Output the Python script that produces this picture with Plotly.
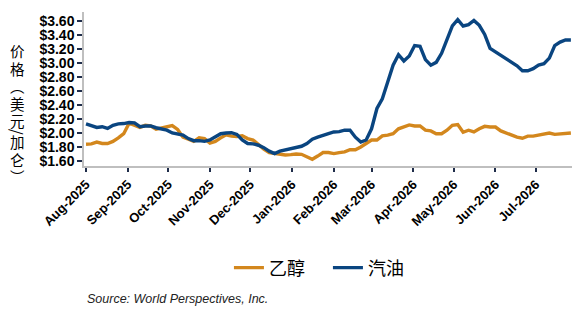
import pandas as pd
import plotly.graph_objects as go

start_date = "2025-08-01"
step = "4D"

gasoline = [2.13, 2.10, 2.08, 2.09, 2.065, 2.11, 2.13, 2.135, 2.15, 2.145,
            2.09, 2.10, 2.10, 2.075, 2.06, 2.04, 2.00, 1.99, 1.97, 1.92,
            1.89, 1.89, 1.88, 1.90, 1.95, 1.99, 2.00, 2.005, 1.98, 1.90,
            1.85, 1.845, 1.825, 1.79, 1.74, 1.705, 1.74, 1.76, 1.78, 1.80,
            1.81, 1.85, 1.91, 1.94, 1.97, 1.99, 2.015, 2.02, 2.04, 2.04,
            1.94, 1.87, 1.90, 2.06, 2.35, 2.49, 2.73, 2.97, 3.12, 3.03,
            3.10, 3.25, 3.24, 3.05, 2.97, 3.01, 3.14, 3.33, 3.53, 3.62,
            3.53, 3.55, 3.61, 3.54, 3.41, 3.21, 3.16, 3.11, 3.06, 3.02,
            2.96, 2.89, 2.89, 2.92, 2.97, 2.99, 3.07, 3.25, 3.30, 3.33,
            3.33]

ethanol = [1.84, 1.845, 1.87, 1.85, 1.85, 1.88, 1.93, 1.99, 2.14, 2.11,
           2.08, 2.11, 2.10, 2.055, 2.07, 2.09, 2.105, 2.05, 1.94, 1.91,
           1.88, 1.93, 1.92, 1.855, 1.88, 1.93, 1.975, 1.955, 1.95, 1.96,
           1.92, 1.90, 1.83, 1.77, 1.72, 1.71, 1.695, 1.685, 1.69, 1.70,
           1.695, 1.66, 1.625, 1.67, 1.72, 1.72, 1.705, 1.72, 1.73, 1.76,
           1.76, 1.80, 1.85, 1.90, 1.90, 1.96, 1.97, 1.99, 2.06, 2.09,
           2.115, 2.10, 2.10, 2.04, 2.03, 1.99, 1.99, 2.04, 2.11, 2.12,
           2.01, 2.04, 2.015, 2.06, 2.095, 2.085, 2.085, 2.03, 2.00, 1.965,
           1.94, 1.925, 1.955, 1.955, 1.97, 1.99, 2.00, 1.98, 1.99, 2.00,
           2.00]

dates = pd.date_range(start_date, periods=len(gasoline), freq=step)

series_names = ["乙醇", "汽油"]
series_colors = ["#D3871D", "#0A4580"]

y_ticks = [1.6, 1.8, 2.0, 2.2, 2.4, 2.6, 2.8, 3.0, 3.2, 3.4, 3.6]
y_ticktext = ["$%.2f" % v for v in y_ticks]

# vertical y-axis title: 价格（美元/加仑）, drawn in three pieces
title_top = ["价", "格", "︵", "美", "元"]
title_mid = "/"
title_bottom = ["加", "仑", "︶"]


def stack(chars):
    return "<br>".join("<span style='font-size:14.5px'>%s</span>" % c for c in chars)


fig = go.Figure()
for name, vals, col in zip(series_names, [ethanol, gasoline], series_colors):
    fig.add_trace(go.Scatter(x=dates, y=vals, name=name, mode="lines",
                             line=dict(color=col, width=3.4)))

x_font = dict(family="Liberation Sans, Arial, sans-serif", size=13,
              color="black", weight="bold")
y_font = dict(family="Liberation Sans, Arial, sans-serif", size=14,
              color="black", weight="bold")

fig.update_layout(
    width=578, height=317,
    margin=dict(l=84, r=6, t=12, b=151),
    paper_bgcolor="white", plot_bgcolor="white",
    showlegend=True,
    legend=dict(orientation="h", x=0.297, xanchor="left", y=-0.662,
                yanchor="middle", entrywidth=54, entrywidthmode="pixels",
                font=dict(family="Noto Sans CJK SC", size=18, color="black")),
)
fig.update_xaxes(
    range=["2025-07-30 12:00", "2026-07-27 20:00"],
    tick0="2025-08-01", dtick="M1", tickformat="%b-%Y", tickangle=-45,
    tickfont=x_font, showgrid=False, zeroline=False,
    showline=True, linecolor="#BFBFBF", linewidth=1.5,
    ticks="outside", ticklen=4, tickcolor="#1F2D4A", tickwidth=1.5,
)
fig.update_yaxes(
    range=[1.528, 3.73], tickvals=y_ticks, ticktext=y_ticktext,
    tickfont=y_font, showgrid=False, zeroline=False,
    showline=True, linecolor="#BFBFBF", linewidth=1.5,
    ticks="outside", ticklen=5, tickcolor="#1F2D4A", tickwidth=1.5,
)

title_font = dict(family="Noto Sans CJK SC", size=13.5, color="black")
fig.add_annotation(text=stack(title_top), xref="paper", yref="paper",
                   x=-0.137, y=0.523, xanchor="center", yanchor="middle",
                   showarrow=False, font=title_font)
fig.add_annotation(text=title_mid, xref="paper", yref="paper",
                   x=-0.137, y=0.222, xanchor="center", yanchor="middle",
                   showarrow=False, textangle=90,
                   font=dict(family="Noto Sans CJK SC", size=15, color="black"))
fig.add_annotation(text=stack(title_bottom), xref="paper", yref="paper",
                   x=-0.137, y=0.045, xanchor="center", yanchor="middle",
                   showarrow=False, font=title_font)

fig.add_annotation(text="<i>Source: World Perspectives, Inc.</i>",
                   xref="paper", yref="paper", x=0.002, y=-0.864,
                   xanchor="left", yanchor="middle", showarrow=False,
                   font=dict(family="Liberation Sans, Arial, sans-serif", size=12.5,
                             color="#222222"))

fig.write_html("out.html")
